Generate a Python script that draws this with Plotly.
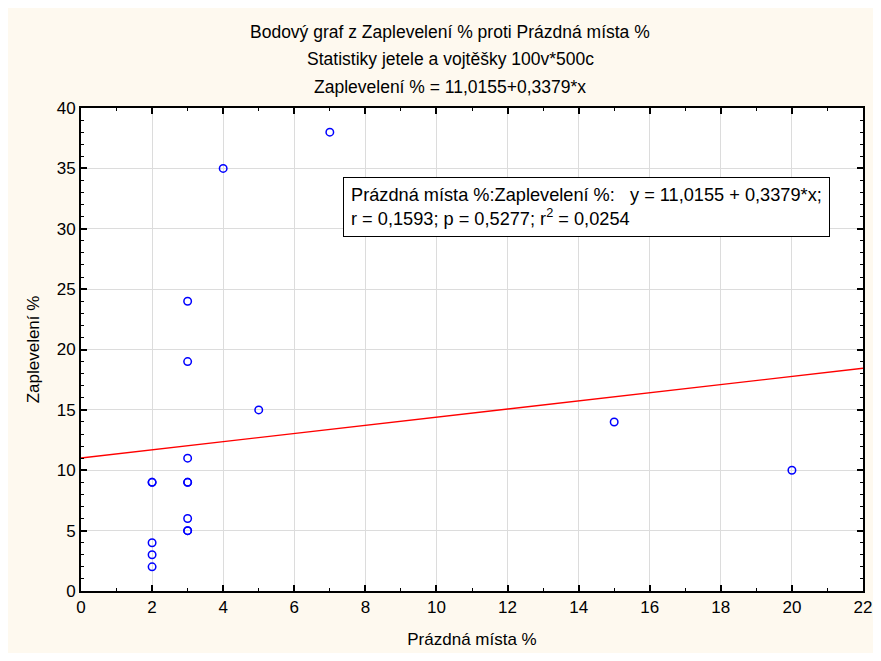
import numpy as np
import plotly.graph_objects as go

# Data (Prázdná místa %, Zaplevelení %)
prazdna_mista = [2, 2, 2, 2, 2, 3, 3, 3, 3, 3, 3, 3, 3, 4, 5, 7, 15, 20]
zapleveleni = [9, 9, 4, 3, 2, 24, 19, 11, 9, 9, 6, 5, 5, 35, 15, 38, 14, 10]

x_ticks = list(range(0, 23, 2))
y_ticks = list(range(0, 41, 5))

title_lines = [
    "Bodový graf z Zaplevelení % proti Prázdná místa %",
    "Statistiky jetele a vojtěšky 100v*500c",
    "Zaplevelení % = 11,0155+0,3379*x",
]
box_text = ("Prázdná místa %:Zaplevelení %:   y = 11,0155 + 0,3379*x;<br>"
            "r = 0,1593; p = 0,5277; r<sup>2</sup> = 0,0254")

slope, intercept = np.polyfit(prazdna_mista, zapleveleni, 1)
line_x = np.array([0, 22])
line_y = intercept + slope * line_x

OFF = 8  # page body margin
W, H = 881 - 2 * OFF, 661 - 2 * OFF
L, R, T, B = 81 - OFF, 10, 108 - OFF, 62
pw, ph = W - L - R, H - T - B

def px_x(p):
    return (p - OFF - L) / pw

def px_y(p):
    return (H - B - (p - OFF)) / ph

fig = go.Figure()
fig.add_trace(go.Scatter(x=line_x, y=line_y, mode="lines",
                         line=dict(color="#FF0000", width=1.3),
                         hoverinfo="skip", showlegend=False))
fig.add_trace(go.Scatter(x=prazdna_mista, y=zapleveleni, mode="markers",
                         marker=dict(symbol="circle-open", size=7.5, color="#0000FF",
                                     line=dict(width=1.5, color="#0000FF")),
                         showlegend=False))

font_family = "Liberation Sans, Arial, sans-serif"

annotations = []
for txt, ypix in zip(title_lines, [32, 59, 87]):
    annotations.append(dict(text=txt, xref="paper", yref="paper",
                            x=px_x(450), y=px_y(ypix), xanchor="center", yanchor="middle",
                            showarrow=False, font=dict(size=17.5, color="#000000", family=font_family)))
annotations.append(dict(text=box_text, xref="paper", yref="paper",
                        x=px_x(343), y=px_y(177), xanchor="left", yanchor="top",
                        align="left", showarrow=False, bgcolor="#FFFFFF",
                        bordercolor="#000000", borderwidth=1, borderpad=7,
                        font=dict(size=18.2, color="#000000", family=font_family)))

axis_common = dict(showline=True, linecolor="#000000", linewidth=2, mirror="ticks",
                   ticks="inside", ticklen=6, tickwidth=1.5, tickcolor="#000000",
                   showgrid=True, gridcolor="#DCDCDC", gridwidth=1, zeroline=False,
                   automargin=False, ticklabeloverflow="allow",
                   tickfont=dict(size=17, color="#000000", family=font_family),
                   minor=dict(ticks="inside", ticklen=3, tickwidth=1, tickcolor="#000000",
                              dtick=1, showgrid=False))

fig.update_layout(
    width=W, height=H,
    margin=dict(l=L, r=R, t=T, b=B, autoexpand=False),
    paper_bgcolor="#FEF9EF",
    plot_bgcolor="#FFFFFF",
    font=dict(family=font_family, color="#000000"),
    xaxis=dict(range=[0, 22], tickvals=x_ticks, title=dict(text="Prázdná místa %",
               font=dict(size=17, family=font_family), standoff=17), **axis_common),
    yaxis=dict(range=[0, 40], tickvals=y_ticks, title=dict(text="Zaplevelení %",
               font=dict(size=17, family=font_family), standoff=13), **axis_common),
    annotations=annotations,
)

fig.write_html("out.html", config={"displayModeBar": False})
